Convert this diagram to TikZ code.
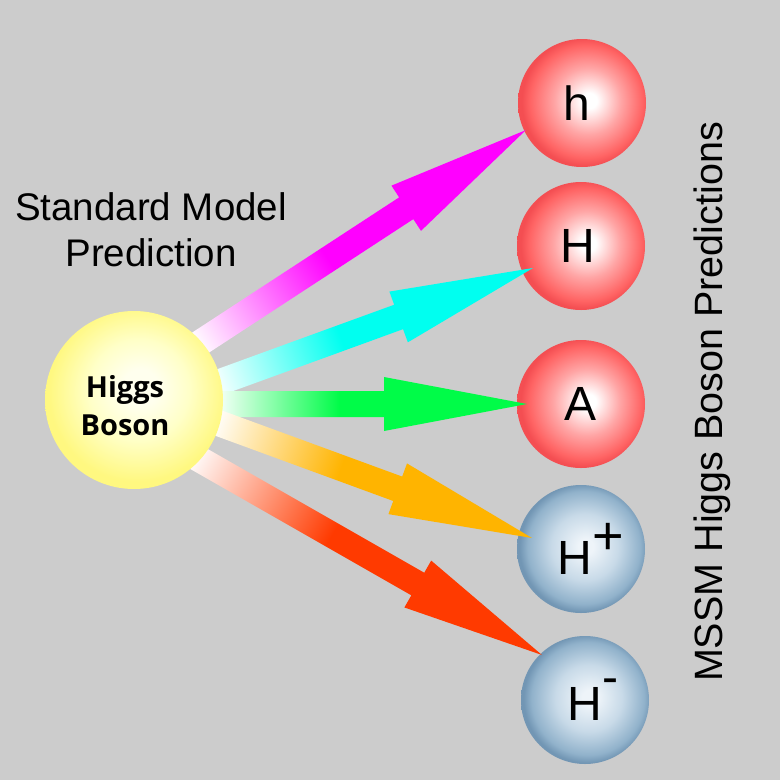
\documentclass[tikz,border=0pt]{standalone}
\usepackage{fontspec}
\setmainfont{Liberation Sans}
\newfontfamily\higgsfont{Open Sans}
\definecolor{bggray}{HTML}{CCCCCC}
\definecolor{arMagenta}{RGB}{255,0,255}
\definecolor{arCyan}{RGB}{0,255,240}
\definecolor{arGreen}{RGB}{0,252,72}
\definecolor{arOrange}{RGB}{255,180,0}
\definecolor{arRed}{RGB}{255,58,0}
\definecolor{hy0}{RGB}{255,255,238}
\definecolor{hy1}{RGB}{255,255,200}
\definecolor{hy2}{RGB}{255,248,128}
\definecolor{rb1}{RGB}{255,165,165}
\definecolor{rb2}{RGB}{255,100,100}
\definecolor{rb3}{RGB}{244,78,82}
\definecolor{bb0}{RGB}{238,244,249}
\definecolor{bb1}{RGB}{200,218,232}
\definecolor{bb2}{RGB}{145,178,203}
\definecolor{bb3}{RGB}{114,150,180}
\colorlet{arrowcol}{magenta}
\pgfdeclareradialshading{higgsshade}{\pgfpoint{2bp}{4bp}}{color(0bp)=(hy0); color(5bp)=(hy0); color(14bp)=(hy1); color(25bp)=(hy2); color(50bp)=(hy2)}
\pgfdeclareradialshading{redballshade}{\pgfpoint{3bp}{1bp}}{color(0bp)=(white); color(3bp)=(white); color(13bp)=(rb1); color(22bp)=(rb2); color(25bp)=(rb3); color(50bp)=(rb3)}
\pgfdeclareradialshading{blueballshade}{\pgfpoint{2bp}{1bp}}{color(0bp)=(bb0); color(3bp)=(bb0); color(13bp)=(bb1); color(22bp)=(bb2); color(25bp)=(bb3); color(50bp)=(bb3)}
\pgfdeclarehorizontalshading[arrowcol]{arrowgrad}{100bp}{color(0bp)=(white); color(25bp)=(white); color(45bp)=(arrowcol); color(100bp)=(arrowcol)}
\newcommand\higgsarrow[3]{%
  \pgfpointanchor{#2}{center}\pgfgetlastxy{\hsx}{\hsy}%
  \pgfpointdiff{\pgfpointanchor{#2}{center}}{\pgfpointanchor{#3}{center}}\pgfgetlastxy{\hdx}{\hdy}%
  \pgfmathsetmacro\haa{atan2(\hdy,\hdx)}%
  \pgfmathsetmacro\hal{veclen(\hdx,\hdy)}%
  \colorlet{arrowcol}{#1}%
  \begin{scope}[transform canvas={shift={(\hsx,\hsy)},rotate=\haa}]
    \shade[shading=arrowgrad] (-8,-13) -- (\hal-143,-13) -- (\hal-143,-27) -- (\hal,0)
      -- (\hal-143,27) -- (\hal-143,13) -- (-8,13) -- cycle;
  \end{scope}}
\begin{document}
\begin{tikzpicture}[x=1pt,y=-1pt,
  ball/.style={circle, minimum size=128pt, inner sep=0pt, outer sep=0pt, shade,
    font=\fontsize{48}{48}\selectfont},
  redb/.style={ball, shading=redballshade},
  blueb/.style={ball, shading=blueballshade},
  bigtext/.style={font=\fontsize{38.5}{46}\selectfont, align=center, inner sep=0pt}]
\fill[bggray] (0,0) rectangle (780,780);
\useasboundingbox (0,0) rectangle (780,780);
% particle balls
\node[redb] (h) at (582,103) {\hspace*{-10pt}h};
\node[redb] (H) at (581,246) {\hspace*{-6pt}H};
\node[redb] (A) at (581,404) {A};
\node[blueb] (Hp) at (581,549) {\hspace*{-12pt}H\rlap{\raisebox{0.42em}{\fontsize{54}{54}\selectfont +}}};
\node[blueb] (Hm) at (585,700) {H\rlap{\raisebox{0.56em}{-}}};
% arrow end points
\coordinate (s1) at (203,341);
\coordinate (s2) at (220,382);
\coordinate (s3) at (222,404);
\coordinate (s4) at (221,424);
\coordinate (s5) at (199,459);
\coordinate (t1) at (526,130);
\coordinate (t2) at (533,268);
\coordinate (t3) at (527,404);
\coordinate (t4) at (532,538);
\coordinate (t5) at (542,655);
\higgsarrow{arMagenta}{s1}{t1}
\higgsarrow{arCyan}{s2}{t2}
\higgsarrow{arGreen}{s3}{t3}
\higgsarrow{arOrange}{s4}{t4}
\higgsarrow{arRed}{s5}{t5}
% Higgs
\node[circle, minimum size=178pt, inner sep=0pt, outer sep=0pt, shade, shading=higgsshade] (higgs) at (134,400) {};
\node[align=center, inner sep=0pt, font=\higgsfont\bfseries\fontsize{29}{38}\selectfont] (higgstext) at (125,406) {Higgs\\Boson};
% texts
\node[bigtext] (sm) at (151,230) {Standard Model\\Prediction};
\node[bigtext, rotate=90, font=\fontsize{39.5}{39.5}\selectfont] (mssm) at (712,402) {MSSM Higgs Boson Predictions};
\end{tikzpicture}
\end{document}
